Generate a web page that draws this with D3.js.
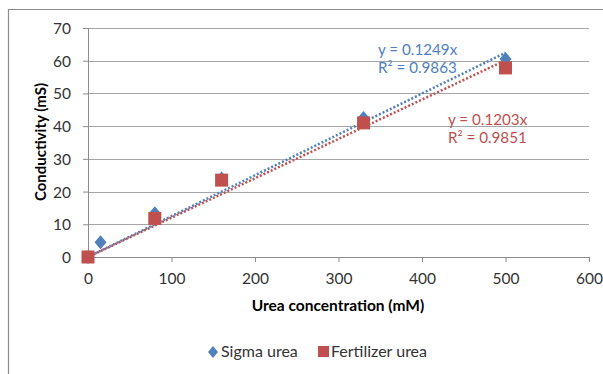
<!DOCTYPE html>
<html>
<head>
<meta charset="utf-8">
<script src="https://cdn.jsdelivr.net/npm/d3@7"></script>
<style>
  body { margin: 0; background: #fff; }
  text { font-family: Lato, "Open Sans", sans-serif; }
</style>
</head>
<body>
<div class="chart"></div>
<script>
// data
var sigmaX = [0, 15, 80, 160, 330, 500];
var sigmaY = [0, 4.5, 13.4, 24, 42.5, 60.5];
var fertX = [0, 80, 160, 330, 500];
var fertY = [0, 11.8, 23.5, 41, 57.8];
var sigmaSlope = 0.1249, sigmaR2 = "0.9863";
var fertSlope = 0.1203, fertR2 = "0.9851";
var xTicks = [0, 100, 200, 300, 400, 500, 600];
var yTicks = [0, 10, 20, 30, 40, 50, 60, 70];

var svgWidth = 603;
var svgHeight = 374;
var margin = { top: 28, right: 14, bottom: 117, left: 88 };
var width = 589 - margin.left;
var height = 257 - margin.top;

var blue = "#4F81BD";
var red = "#C0504D";

var svg = d3.select(".chart")
    .append("svg")
    .attr("width", svgWidth)
    .attr("height", svgHeight);

// outer frame
svg.append("path")
    .attr("d", "M8.5,380 V9.5 H610")
    .attr("fill", "none")
    .attr("stroke", "#8c8c8c")
    .attr("stroke-width", 1.2);

var chartGroup = svg.append("g")
    .attr("transform", `translate(${margin.left}, ${margin.top})`);

var x = d3.scaleLinear().domain([0, 600]).range([0, width]);
var y = d3.scaleLinear().domain([0, 70]).range([height, 0]);

// gridlines
chartGroup.selectAll(".grid")
    .data(yTicks.slice(1))
    .enter()
    .append("line")
    .attr("x1", 0)
    .attr("x2", width)
    .attr("y1", d => Math.round(y(d)) + 0.5)
    .attr("y2", d => Math.round(y(d)) + 0.5)
    .attr("stroke", "#a6a6a6")
    .attr("stroke-width", 1);

// axes
var bottomAxis = d3.axisBottom(x).tickValues(xTicks).tickSize(5).tickPadding(8);
var leftAxis = d3.axisLeft(y).tickValues(yTicks).tickSize(5).tickPadding(12);

var xAxis = chartGroup.append("g")
    .attr("transform", `translate(0, ${height})`)
    .call(bottomAxis);
var yAxis = chartGroup.append("g").call(leftAxis);

[xAxis, yAxis].forEach(function(a) {
  a.select(".domain").attr("stroke", "#8c8c8c");
  a.selectAll(".tick line").attr("stroke", "#8c8c8c");
  a.selectAll(".tick text")
    .attr("font-size", 15.5)
    .attr("font-family", "Lato, 'Open Sans', sans-serif")
    .attr("fill", "#333");
});
xAxis.selectAll(".tick text").attr("dy", "0.9em");
yAxis.selectAll(".tick text").attr("dy", "0.35em");

// trendlines (dotted), from 0 to max x
function trend(slope, color, offset) {
  chartGroup.append("line")
    .attr("x1", x(0))
    .attr("y1", y(0))
    .attr("x2", x(500))
    .attr("y2", y(slope * 500))
    .attr("stroke", color)
    .attr("stroke-width", 2.5)
    .attr("stroke-dasharray", "2,2")
    .attr("stroke-dashoffset", offset);
}
trend(sigmaSlope, blue, 0);
trend(fertSlope, red, 2);

// sigma diamonds
var sigmaData = sigmaX.map((d, i) => ({ x: d, y: sigmaY[i] }));
chartGroup.selectAll(".sigma")
    .data(sigmaData)
    .enter()
    .append("path")
    .attr("d", "M0,-7 L6,0 L0,7 L-6,0 Z")
    .attr("transform", d => `translate(${x(d.x)}, ${y(d.y)})`)
    .attr("fill", blue);

// fertilizer squares
var fertData = fertX.map((d, i) => ({ x: d, y: fertY[i] }));
chartGroup.selectAll(".fert")
    .data(fertData)
    .enter()
    .append("rect")
    .attr("x", d => x(d.x) - 6.5)
    .attr("y", d => y(d.y) - 6.5)
    .attr("width", 13)
    .attr("height", 13)
    .attr("fill", red);

// equation labels
function eq(px, py, slope, r2, color) {
  var t = svg.append("text")
      .attr("x", px)
      .attr("y", py)
      .attr("font-size", 15.2)
      .attr("fill", color);
  t.append("tspan").attr("x", px).text(`y = ${slope}x`);
  t.append("tspan").attr("x", px).attr("dy", 18).text(`R² = ${r2}`);
}
eq(378, 55, sigmaSlope, sigmaR2, blue);
eq(448, 125, fertSlope, fertR2, red);

// axis titles
svg.append("text")
    .attr("x", 338)
    .attr("y", 311)
    .attr("text-anchor", "middle")
    .attr("font-size", 15.5)
    .attr("font-weight", "bold")
    .attr("fill", "#000")
    .text("Urea concentration (mM)");

svg.append("text")
    .attr("transform", "translate(46, 142) rotate(-90)")
    .attr("text-anchor", "middle")
    .attr("font-size", 15)
    .attr("font-weight", "bold")
    .attr("fill", "#000")
    .text("Conductivity (mS)");

// legend
var legend = svg.append("g");
legend.append("path")
    .attr("d", "M0,-6 L5,0 L0,6 L-5,0 Z")
    .attr("transform", "translate(213, 352)")
    .attr("fill", blue);
legend.append("text")
    .attr("x", 221)
    .attr("y", 357)
    .attr("font-size", 16)
    .attr("fill", "#333")
    .text("Sigma urea");
legend.append("rect")
    .attr("x", 318)
    .attr("y", 346)
    .attr("width", 11)
    .attr("height", 11)
    .attr("fill", red);
legend.append("text")
    .attr("x", 331)
    .attr("y", 357)
    .attr("font-size", 16)
    .attr("fill", "#333")
    .text("Fertilizer urea");
</script>
</body>
</html>
